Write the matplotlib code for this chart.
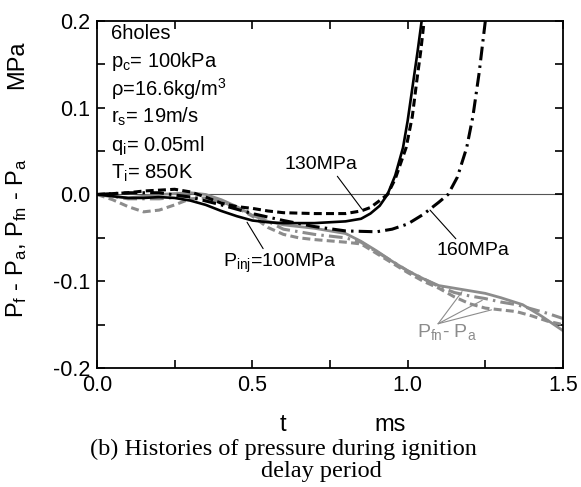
import matplotlib.pyplot as plt
from matplotlib.ticker import MultipleLocator

plt.rcParams['font.family'] = ['Liberation Sans', 'DejaVu Sans']
plt.rcParams['mathtext.fontset'] = 'custom'
plt.rcParams['mathtext.rm'] = 'Liberation Sans'
plt.rcParams['mathtext.it'] = 'Liberation Sans'

# Pf - Pa (черные), Pinj = 100 / 130 / 160 MPa
t_f100 = [0, 0.05, 0.1, 0.15, 0.2, 0.25, 0.3, 0.35, 0.4, 0.45, 0.5, 0.55, 0.6, 0.65,
          0.7, 0.75, 0.8, 0.85, 0.88, 0.91, 0.935, 0.96, 0.985, 1.0, 1.018, 1.032, 1.045]
p_f100 = [0, -0.002, -0.004, -0.004, -0.003, -0.004, -0.007, -0.012, -0.019, -0.025,
          -0.03, -0.032, -0.033, -0.033, -0.033, -0.032, -0.031, -0.028, -0.022, -0.013,
          0.0, 0.022, 0.054, 0.085, 0.13, 0.165, 0.2]

t_f130 = [0, 0.05, 0.1, 0.15, 0.2, 0.25, 0.3, 0.35, 0.4, 0.45, 0.5, 0.55, 0.6, 0.7,
          0.8, 0.85, 0.88, 0.91, 0.935, 0.96, 0.995, 1.015, 1.029, 1.042, 1.053]
p_f130 = [0, 0.001, 0.002, 0.004, 0.005, 0.006, 0.003, -0.003, -0.01, -0.014, -0.016,
          -0.019, -0.021, -0.022, -0.022, -0.019, -0.015, -0.007, 0.0, 0.018, 0.054,
          0.09, 0.13, 0.165, 0.2]

t_f160 = [0, 0.1, 0.2, 0.3, 0.4, 0.5, 0.6, 0.7, 0.8, 0.9, 0.95, 1.0, 1.05, 1.1, 1.13,
          1.16, 1.19, 1.21, 1.23, 1.25]
p_f160 = [0, 0.002, 0.002, -0.003, -0.012, -0.022, -0.03, -0.037, -0.042, -0.043,
          -0.04, -0.034, -0.023, -0.009, 0.0, 0.02, 0.054, 0.09, 0.14, 0.2]

# Pfn - Pa (серые)
t_fn100 = [0, 0.1, 0.2, 0.3, 0.35, 0.4, 0.45, 0.5, 0.55, 0.6, 0.7, 0.8, 0.85, 0.9, 0.95,
           1.0, 1.05, 1.1, 1.15, 1.2, 1.25, 1.3, 1.37, 1.43, 1.5]
p_fn100 = [0, -0.004, 0.0, 0.002, 0.0, -0.006, -0.014, -0.024, -0.031, -0.035, -0.039,
           -0.045, -0.054, -0.065, -0.077, -0.088, -0.097, -0.105, -0.108, -0.111,
           -0.114, -0.119, -0.127, -0.14, -0.157]

t_fn130 = [0, 0.05, 0.1, 0.15, 0.2, 0.25, 0.3, 0.35, 0.4, 0.45, 0.5, 0.55, 0.6, 0.65,
           0.7, 0.8, 0.85, 0.9, 0.95, 1.0, 1.05, 1.1, 1.15, 1.2, 1.25, 1.3, 1.35, 1.4,
           1.45, 1.5]
p_fn130 = [0, -0.006, -0.014, -0.02, -0.018, -0.012, -0.005, -0.004, -0.008, -0.015,
           -0.025, -0.038, -0.046, -0.05, -0.052, -0.055, -0.057, -0.068, -0.079, -0.09,
           -0.1, -0.108, -0.118, -0.126, -0.131, -0.133, -0.135, -0.14, -0.146, -0.15]

t_fn160 = [0, 0.1, 0.2, 0.3, 0.4, 0.5, 0.6, 0.7, 0.8, 0.85, 0.9, 1.0, 1.1, 1.15, 1.2,
           1.25, 1.3, 1.35, 1.4, 1.45, 1.5]
p_fn160 = [0, -0.005, -0.005, -0.002, -0.008, -0.022, -0.04, -0.046, -0.05, -0.055,
           -0.066, -0.088, -0.106, -0.113, -0.117, -0.12, -0.124, -0.127, -0.132,
           -0.137, -0.143]

params = ['6holes', r'p$_\mathregular{c}$= 100kPa', r'$\rho$=16.6kg/m$^\mathregular{3}$',
          r'r$_\mathregular{s}$= 19m/s', r'q$_\mathregular{i}$= 0.05ml',
          r'T$_\mathregular{i}$= 850K']

fig = plt.figure(figsize=(5.81, 4.87), dpi=100)
ax = fig.add_axes([0.167, 0.2444, 0.802, 0.7125])

ax.axhline(0, color='#555555', lw=0.8, zorder=1)

gray = '#8c8c8c'
ax.plot(t_fn100, p_fn100, color=gray, lw=2.0)
ax.plot(t_fn130, p_fn130, color=gray, lw=2.2, ls=(0, (2.6, 1.4)))
ax.plot(t_fn160, p_fn160, color=gray, lw=2.2, ls=(0, (4.5, 1.7, 0.8, 1.7)))

ax.plot(t_f100, p_f100, color='black', lw=1.9)
ax.plot(t_f130, p_f130, color='black', lw=2.2, ls=(0, (2.6, 1.4)))
ax.plot(t_f160, p_f160, color='black', lw=2.2, ls=(0, (4.5, 1.7, 0.8, 1.7)))

ax.set_xlim(0, 1.5)
ax.set_ylim(-0.2, 0.2)
ax.xaxis.set_minor_locator(MultipleLocator(0.25))
ax.yaxis.set_minor_locator(MultipleLocator(0.05))
ax.set_xticks([0, 0.5, 1.0, 1.5])
ax.set_xticklabels(['0.0', '0.5', '1.0', '1.5'])
ax.set_yticks([-0.2, -0.1, 0.0, 0.1, 0.2])
ax.set_yticklabels(['-0.2', '-0.1', '0.0', '0.1', '0.2'])
ax.tick_params(which='both', direction='in', top=True, right=True, width=1.2,
               labelsize=15.5)
ax.tick_params(which='major', length=6, pad=5)
ax.tick_params(which='minor', length=6)
for s in ax.spines.values():
    s.set_linewidth(1.3)

for i, line in enumerate(params):
    ax.text(0.03, 0.965 - i * 0.0807, line, transform=ax.transAxes, fontsize=14.5,
            va='center', ha='left')

ax.annotate('130MPa', xy=(0.853, -0.017), xytext=(0.72, 0.034), fontsize=14,
            ha='center', va='center',
            arrowprops=dict(arrowstyle='-', color='black', lw=0.8,
                            shrinkA=0, shrinkB=0, relpos=(0.7, 0)))
ax.annotate('160MPa', xy=(1.072, -0.018), xytext=(1.21, -0.064), fontsize=14,
            ha='center', va='center',
            arrowprops=dict(arrowstyle='-', color='black', lw=0.8,
                            shrinkA=0, shrinkB=0, relpos=(0.3, 1)))
ax.annotate(r'P$_\mathregular{inj}$=100MPa', xy=(0.483, -0.032), xytext=(0.405, -0.079),
            fontsize=14, ha='left', va='center',
            arrowprops=dict(arrowstyle='-', color='black', lw=0.8,
                            shrinkA=0, shrinkB=0, relpos=(0.37, 1)))

for xy in [(1.175, -0.112), (1.24, -0.122), (1.27, -0.133)]:
    ax.annotate('', xy=xy, xytext=(1.098, -0.149),
                arrowprops=dict(arrowstyle='-', color=gray, lw=0.8,
                                shrinkA=0, shrinkB=0))
ax.text(1.03, -0.158, r'P$_\mathregular{fn}$- P$_\mathregular{a}$', color=gray,
        fontsize=14, ha='left', va='center')

fig.text(17 / 581, 1 - 65 / 487, 'MPa', rotation=90, fontsize=17,
         ha='center', va='center')
fig.text(17 / 581, 1 - 238 / 487,
         r'P$_\mathregular{f}$ - P$_\mathregular{a}$, P$_\mathregular{fn}$ - P$_\mathregular{a}$',
         rotation=90, fontsize=17, ha='center', va='center')

fig.text(283 / 581, 1 - 425 / 487, 't', fontsize=17, ha='center', va='center')
fig.text(390 / 581, 1 - 425 / 487, 'ms', fontsize=17, ha='center', va='center')

fig.text(90 / 581, 1 - 449 / 487, '(b) Histories of pressure during ignition',
         fontsize=17.5, family='Liberation Serif', ha='left', va='center')
fig.text(321 / 581, 1 - 472 / 487, 'delay period',
         fontsize=17.5, family='Liberation Serif', ha='center', va='center')

fig.savefig('out.png', dpi=100)
